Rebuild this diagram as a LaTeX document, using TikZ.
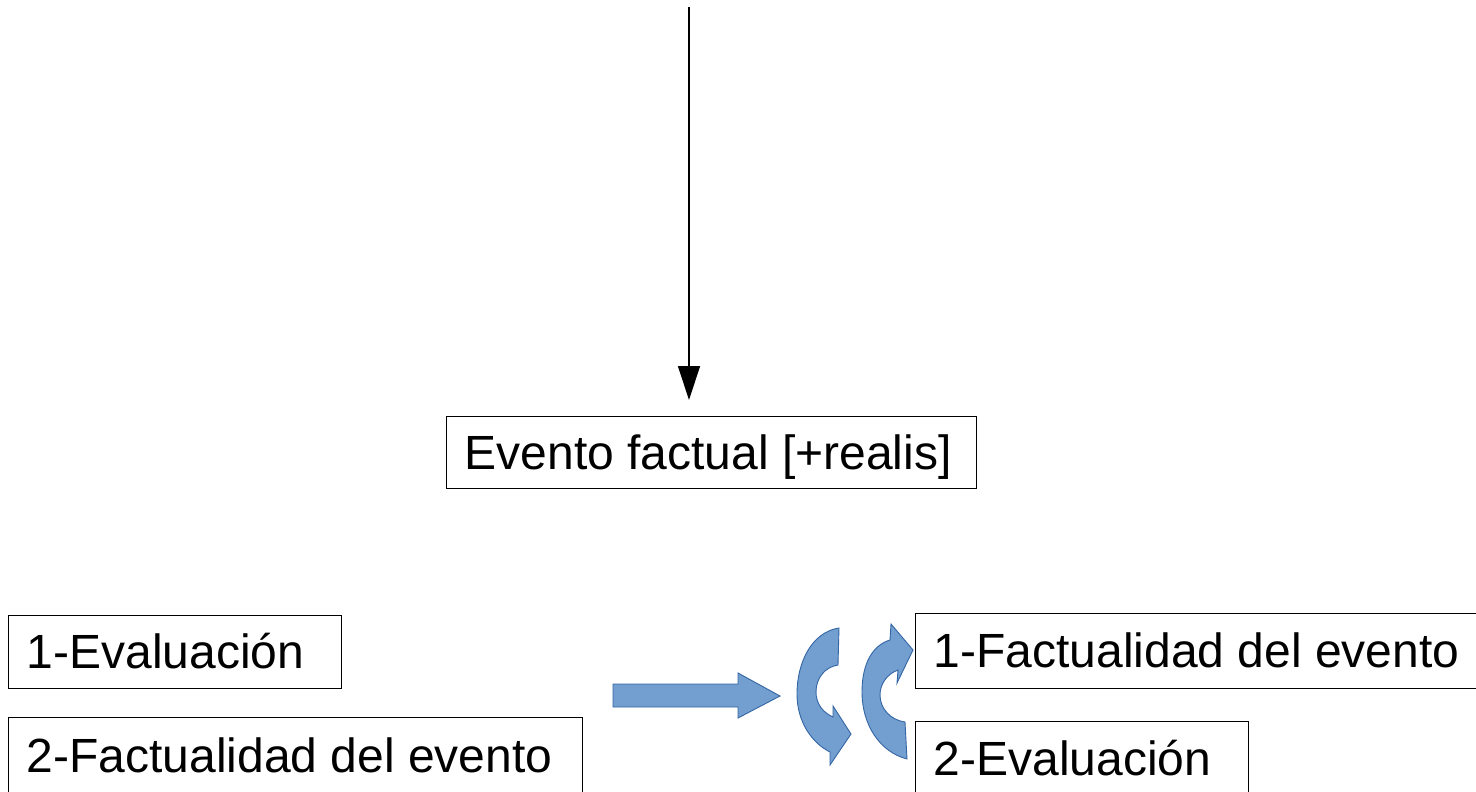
\documentclass[tikz,border=0pt]{standalone}
\usepackage{fontspec}
\setmainfont{Liberation Sans}
\usetikzlibrary{arrows.meta,calc}
\definecolor{arrfill}{HTML}{729FCF}
\definecolor{arrdraw}{HTML}{3465A4}
\tikzset{
  box/.style={draw=black, line width=1pt, inner sep=0pt, rectangle},
  lbl/.style={inner sep=0pt, anchor=base west, font=\fontsize{48}{58}\selectfont},
  blockarrow/.style={fill=arrfill, draw=arrdraw, line width=0.9pt, line join=miter},
}
\begin{document}
\begin{tikzpicture}[x=1pt,y=-1pt]
\useasboundingbox (0,0) rectangle (1476,792);
\clip (0,0) rectangle (1476,792);
% top connector
\coordinate (top) at (689,7);
\coordinate (tip) at (689,400);
\draw[line width=1.3pt, -{Triangle[length=34pt,width=22pt]}] (top) -- (tip);
% boxes
\node[box, minimum width=530pt, minimum height=72pt] (ev) at (711,452) {};
\node[lbl] (evt) at ($(ev.west)+(19,17)$) {Evento factual [+realis]};
\node[box, minimum width=333pt, minimum height=73pt] (e1) at (174.5,651.5) {};
\node[lbl] (e1t) at ($(e1.west)+(19,17)$) {1-Evaluación};
\node[box, minimum width=574pt, minimum height=90pt] (f2) at (295,762) {};
\node[lbl] (f2t) at ($(f2.west)+(19,10)$) {2-Factualidad del evento};
\node[box, minimum width=580pt, minimum height=75pt] (f1) at (1205,650.5) {};
\node[lbl] (f1t) at ($(f1.west)+(19,17)$) {1-Factualidad del evento};
\node[box, minimum width=333pt, minimum height=90pt] (e2) at (1081.5,766) {};
\node[lbl] (e2t) at ($(e2.west)+(19,9)$) {2-Evaluación};
% straight block arrow
\draw[blockarrow] (613,684) -- (738,684) -- (738,673) -- (780,696) -- (738,718) -- (738,707) -- (613,707) -- cycle;
% left circular arrow
\draw[blockarrow] (839,628) .. controls (812,632) and (797,662) .. (797,694)
  .. controls (797,722) and (812,743) .. (830,752) -- (830,765) -- (851,734) -- (833,706) -- (833,717)
  .. controls (822,712) and (816,703) .. (816,692)
  .. controls (816,678) and (825,667) .. (838,665) -- cycle;
% right circular arrow
\draw[blockarrow] (907,759) .. controls (880,752) and (862,725) .. (862,692)
  .. controls (862,663) and (873,645) .. (890,640) -- (891,624) -- (913,650) -- (897,683) -- (898,670)
  .. controls (887,674) and (880,684) .. (880,695)
  .. controls (880,708) and (890,720) .. (905,722) -- cycle;
\end{tikzpicture}
\end{document}
